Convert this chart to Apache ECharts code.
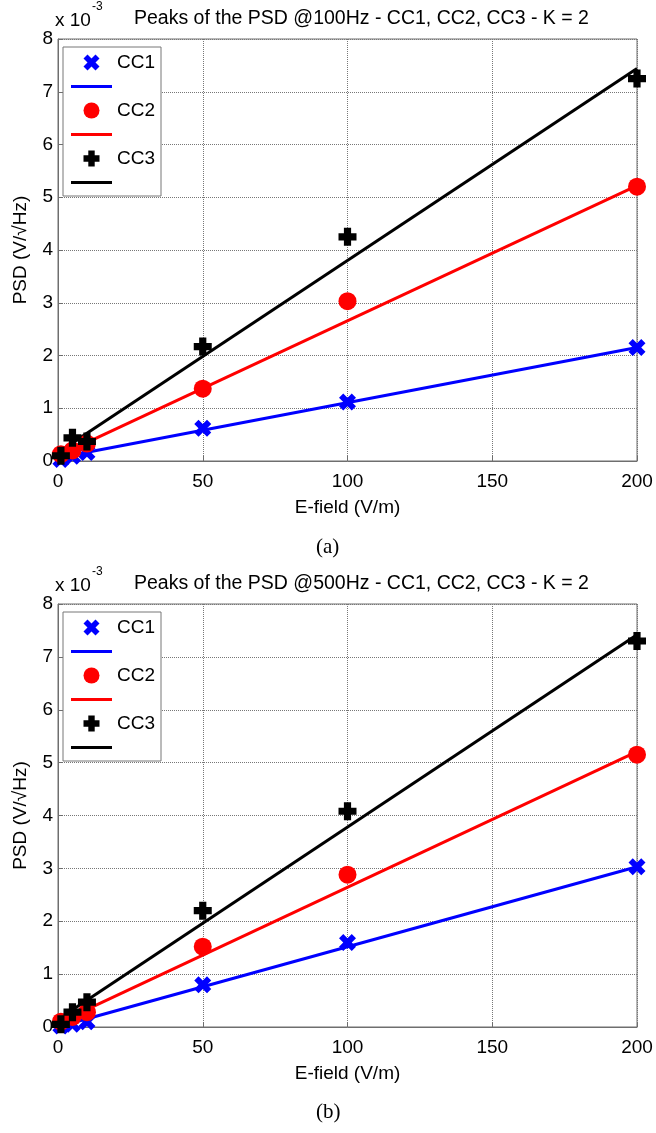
<!DOCTYPE html>
<html><head><meta charset="utf-8">
<script src="https://cdn.jsdelivr.net/npm/echarts@6/dist/echarts.min.js"></script>
<style>html,body{margin:0;padding:0;background:#fff}#c{width:656px;height:1133px}</style>
</head><body><div id="c"></div>
<script>
// ---------- data ----------
const eField = [1, 5, 10, 50, 100, 200];          // E-field (V/m)
const fitE = [1, 200];                             // extent of linear fits
const xTicks = [0, 50, 100, 150, 200];
const yTicks = [0, 1, 2, 3, 4, 5, 6, 7, 8];        // x 10^-3

// (a) @100Hz  (PSD values x 10^-3)
const a_cc1 = [0.03, 0.09, 0.16, 0.62, 1.12, 2.15];
const a_cc2 = [0.13, 0.20, 0.33, 1.37, 3.03, 5.20];
const a_cc3 = [0.10, 0.44, 0.37, 2.17, 4.25, 7.25];
const a_fit1 = [0.07, 2.15];
const a_fit2 = [0.12, 5.22];
const a_fit3 = [0.20, 7.44];

// (b) @500Hz
const b_cc1 = [0.02, 0.05, 0.10, 0.80, 1.60, 3.03];
const b_cc2 = [0.10, 0.19, 0.28, 1.52, 2.88, 5.15];
const b_cc3 = [0.05, 0.28, 0.47, 2.20, 4.08, 7.30];
const b_fit1 = [0.02, 3.03];
const b_fit2 = [0.10, 5.21];
const b_fit3 = [0.18, 7.42];

const seriesNames = ['CC1', 'CC2', 'CC3'];
const titles = ['Peaks of the PSD @100Hz - CC1, CC2, CC3 - K = 2',
                'Peaks of the PSD @500Hz - CC1, CC2, CC3 - K = 2'];
const captions = ['(a)', '(b)'];
const xName = 'E-field (V/m)';
const yName = 'PSD (V/\u221AHz)';
const expBase = 'x 10', expPow = '-3';

// ---------- styling ----------
const FF = 'Liberation Sans, Arial, sans-serif';
const colors = ['#0000ff', '#ff0000', '#000000'];
const symbols = [
  'path://M0,2.5L2.5,0L5,2.5L7.5,0L10,2.5L7.5,5L10,7.5L7.5,10L5,7.5L2.5,10L0,7.5L2.5,5Z',
  'circle',
  'path://M3,0H7V3H10V7H7V10H3V7H0V3H3Z'
];
const lineIcon = 'path://M0,0H41V3H0Z';
const symSizes = [17, 18, 18];
const panels = [
  {top: 39, height: 422, pts: [a_cc1, a_cc2, a_cc3], fits: [a_fit1, a_fit2, a_fit3], dy: 0},
  {top: 604, height: 423, pts: [b_cc1, b_cc2, b_cc3], fits: [b_fit1, b_fit2, b_fit3], dy: 565}
];

const zip = (xs, ys) => xs.map((x, i) => [x, ys[i]]);
const grid = [], xAxis = [], yAxis = [], series = [], legend = [], title = [];

panels.forEach((p, k) => {
  grid.push({left: 58, width: 579, top: p.top, height: p.height, show: true,
             borderColor: '#6e6e6e', borderWidth: 1, backgroundColor: '#fff'});
  xAxis.push({gridIndex: k, type: 'value', min: xTicks[0], max: xTicks[xTicks.length - 1],
    interval: xTicks[1] - xTicks[0],
    name: xName, nameLocation: 'middle', nameGap: 37,
    nameTextStyle: {fontSize: 19, color: '#000', fontFamily: FF},
    axisLine: {show: true, lineStyle: {color: '#6e6e6e'}},
    axisTick: {show: true, inside: true, length: 5, lineStyle: {color: '#6e6e6e'}},
    axisLabel: {fontSize: 19, color: '#000', fontFamily: FF, margin: 11},
    splitLine: {show: true, lineStyle: {type: 'dotted', color: '#777', width: 1}}});
  yAxis.push({gridIndex: k, type: 'value', min: yTicks[0], max: yTicks[yTicks.length - 1],
    interval: yTicks[1] - yTicks[0],
    name: yName, nameLocation: 'middle', nameGap: 28,
    nameTextStyle: {fontSize: 19, color: '#000', fontFamily: FF},
    axisLine: {show: true, lineStyle: {color: '#6e6e6e'}},
    axisTick: {show: true, inside: true, length: 5, lineStyle: {color: '#6e6e6e'}},
    axisLabel: {fontSize: 19, color: '#000', fontFamily: FF, margin: 5},
    splitLine: {show: true, lineStyle: {type: 'dotted', color: '#777', width: 1}}});

  const legendData = [];
  seriesNames.forEach((nm, i) => {
    legendData.push({name: nm}, {name: nm + ' fit', icon: lineIcon});
    series.push({name: nm + ' fit', type: 'line', xAxisIndex: k, yAxisIndex: k,
      data: zip(fitE, p.fits[i]), symbol: 'none', showSymbol: false, z: 2 + i,
      lineStyle: {color: colors[i], width: 3}, itemStyle: {color: colors[i]}, animation: false});
  });
  seriesNames.forEach((nm, i) => {
    series.push({name: nm, type: 'scatter', xAxisIndex: k, yAxisIndex: k,
      data: zip(eField, p.pts[i]), symbol: symbols[i], symbolSize: symSizes[i],
      clip: false, z: 5 + i, itemStyle: {color: colors[i], opacity: 1}, animation: false});
  });

  legend.push({left: 63, top: 47 + p.dy, orient: 'vertical', padding: [6, 6, 4, 8],
    itemWidth: 41, itemHeight: 16, itemGap: 5, selectedMode: false,
    borderColor: '#777', borderWidth: 1, backgroundColor: '#fff', z: 10,
    data: legendData, formatter: n => (n.indexOf('fit') >= 0 ? ' ' : n),
    textStyle: {fontSize: 19, lineHeight: 16, color: '#000', fontFamily: FF}});

  title.push({text: titles[k], left: 134, top: 9 + p.dy, padding: 0,
    textStyle: {fontSize: 19.5, fontWeight: 'normal', color: '#000', fontFamily: FF}});
  title.push({text: expBase, left: 55, top: 11 + p.dy, padding: 0,
    textStyle: {fontSize: 19, fontWeight: 'normal', color: '#000', fontFamily: FF}});
  title.push({text: expPow, left: 92, top: 1 + p.dy, padding: 0,
    textStyle: {fontSize: 12, fontWeight: 'normal', color: '#000', fontFamily: FF}});
  title.push({text: captions[k], left: 316, top: 537 + p.dy, padding: 0,
    textStyle: {fontSize: 21, fontWeight: 'normal', color: '#000',
                fontFamily: 'Liberation Serif, Times New Roman, serif'}});
});

const chart = echarts.init(document.getElementById('c'), null, {renderer: 'canvas'});
chart.setOption({animation: false, backgroundColor: '#fff',
  title, grid, xAxis, yAxis, legend, series});
</script>
</body></html>
